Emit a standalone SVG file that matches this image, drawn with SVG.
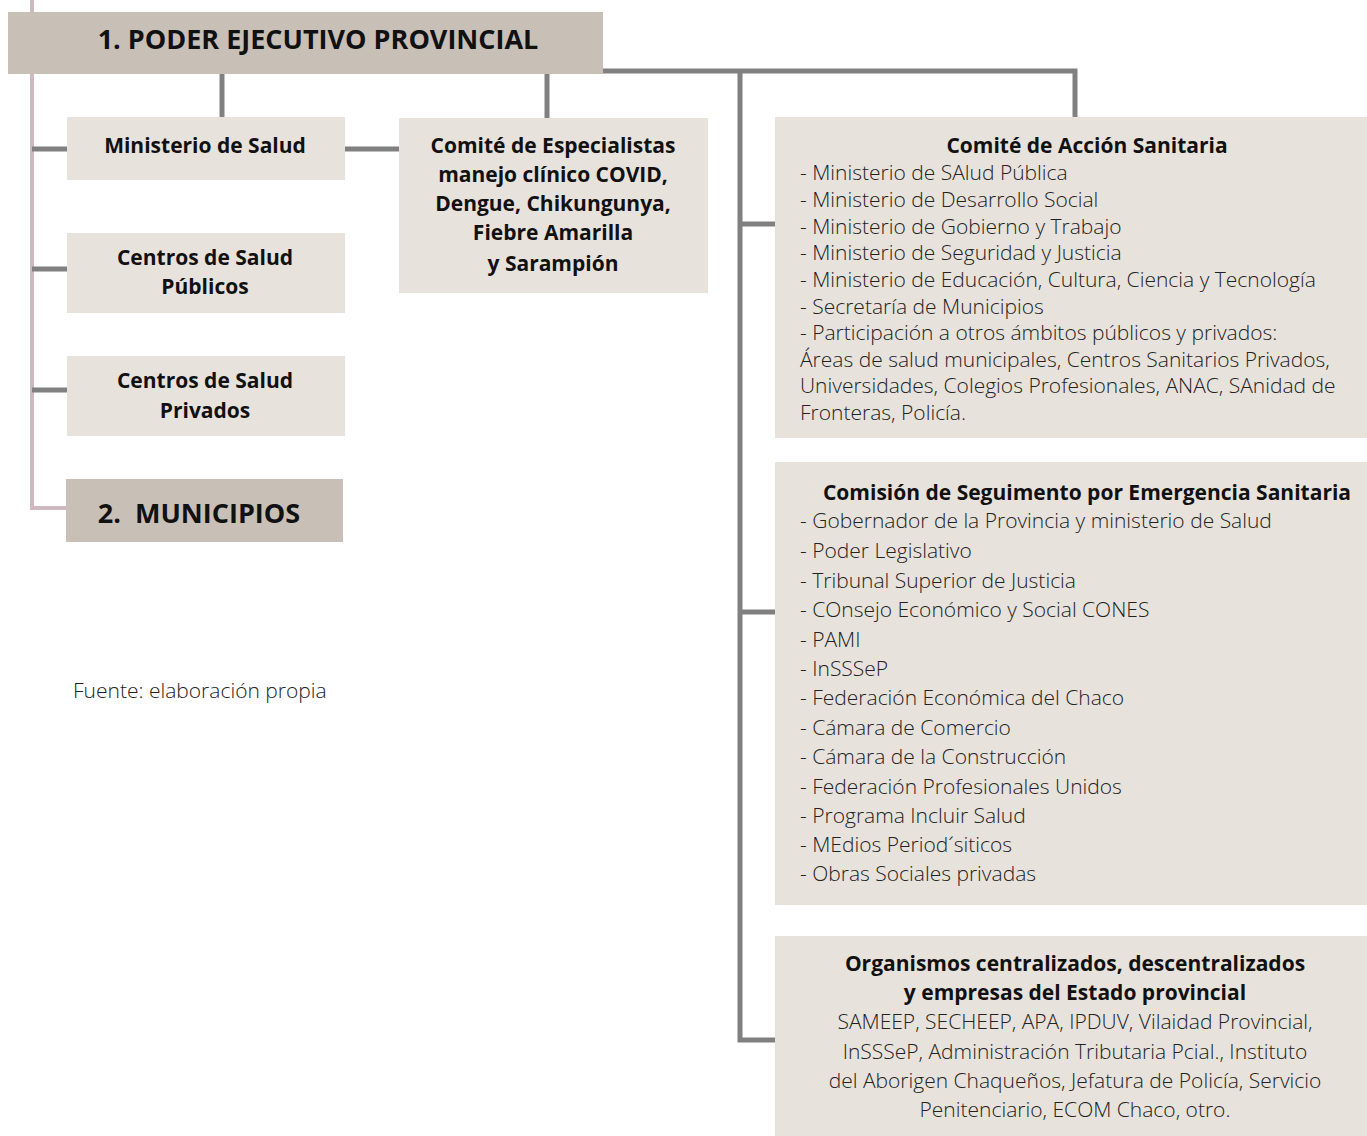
<svg xmlns="http://www.w3.org/2000/svg" width="1367" height="1136" viewBox="0 0 1367 1136">
<style>
.dark{fill:#c8c0b6}
.light{fill:#e8e2dc}
.ln{stroke:#808080;stroke-width:5;fill:none}
.pk{stroke:#cdb9bf;stroke-width:4;fill:none}
.h{font-family:"Open Sans","Liberation Sans",sans-serif;font-weight:700;fill:#111;text-anchor:middle;font-size:21px}
.t{font-family:"Open Sans","Liberation Sans",sans-serif;font-weight:300;fill:#222;font-size:21px}
.c{text-anchor:middle}
</style>
<rect width="1367" height="1136" fill="#fff"/>
<g id="connectors">
<polyline class="pk" points="32,0 32,508 67,508"/>
<line class="ln" x1="222" y1="74" x2="222" y2="117"/>
<line class="ln" x1="547" y1="74" x2="547" y2="118"/>
<polyline class="ln" points="603,71 1075,71 1075,117"/>
<polyline class="ln" points="740,71 740,1040 775,1040"/>
<line class="ln" x1="740" y1="224" x2="775" y2="224"/>
<line class="ln" x1="740" y1="612" x2="775" y2="612"/>
<line class="ln" x1="32" y1="149" x2="67" y2="149"/>
<line class="ln" x1="32" y1="269" x2="67" y2="269"/>
<line class="ln" x1="32" y1="390" x2="67" y2="390"/>
<line class="ln" x1="345" y1="149" x2="399" y2="149"/>
</g>
<g id="poder">
<rect class="dark" x="8" y="12" width="595" height="62"/>
<text class="h" x="318" y="49" style="font-size:27px">1. PODER EJECUTIVO PROVINCIAL</text>
</g>
<g id="ministerio">
<rect class="light" x="67" y="117" width="278" height="63"/>
<text class="h" x="205" y="153">Ministerio de Salud</text>
</g>
<g id="publicos">
<rect class="light" x="67" y="233" width="278" height="80"/>
<text class="h" x="205" y="265">Centros de Salud</text>
<text class="h" x="205" y="294">Públicos</text>
</g>
<g id="privados">
<rect class="light" x="67" y="356" width="278" height="80"/>
<text class="h" x="205" y="388">Centros de Salud</text>
<text class="h" x="205" y="418">Privados</text>
</g>
<g id="municipios">
<rect class="dark" x="66" y="479" width="277" height="63"/>
<text class="h" x="199" y="523" style="font-size:27px" xml:space="preserve">2.  MUNICIPIOS</text>
</g>
<g id="especialistas">
<rect class="light" x="399" y="118" width="309" height="175"/>
<text class="h" x="553" y="153">Comité de Especialistas</text>
<text class="h" x="553" y="182">manejo clínico COVID,</text>
<text class="h" x="553" y="211">Dengue, Chikungunya,</text>
<text class="h" x="553" y="240">Fiebre Amarilla</text>
<text class="h" x="553" y="271">y Sarampión</text>
</g>
<g id="accion">
<rect class="light" x="775" y="117" width="592" height="321"/>
<text class="h" x="1087" y="153">Comité de Acción Sanitaria</text>
<text class="t" x="800" y="180">- Ministerio de SAlud Pública</text>
<text class="t" x="800" y="207">- Ministerio de Desarrollo Social</text>
<text class="t" x="800" y="234">- Ministerio de Gobierno y Trabajo</text>
<text class="t" x="800" y="260">- Ministerio de Seguridad y Justicia</text>
<text class="t" x="800" y="287">- Ministerio de Educación, Cultura, Ciencia y Tecnología</text>
<text class="t" x="800" y="314">- Secretaría de Municipios</text>
<text class="t" x="800" y="340">- Participación a otros ámbitos públicos y privados:</text>
<text class="t" x="800" y="367">Áreas de salud municipales, Centros Sanitarios Privados,</text>
<text class="t" x="800" y="393">Universidades, Colegios Profesionales, ANAC, SAnidad de</text>
<text class="t" x="800" y="420">Fronteras, Policía.</text>
</g>
<g id="comision">
<rect class="light" x="775" y="462" width="592" height="443"/>
<text class="h" x="1087" y="500">Comisión de Seguimento por Emergencia Sanitaria</text>
<text class="t" x="800" y="528">- Gobernador de la Provincia y ministerio de Salud</text>
<text class="t" x="800" y="558">- Poder Legislativo</text>
<text class="t" x="800" y="588">- Tribunal Superior de Justicia</text>
<text class="t" x="800" y="617">- COnsejo Económico y Social CONES</text>
<text class="t" x="800" y="647">- PAMI</text>
<text class="t" x="800" y="676">- InSSSeP</text>
<text class="t" x="800" y="705">- Federación Económica del Chaco</text>
<text class="t" x="800" y="735">- Cámara de Comercio</text>
<text class="t" x="800" y="764">- Cámara de la Construcción</text>
<text class="t" x="800" y="794">- Federación Profesionales Unidos</text>
<text class="t" x="800" y="823">- Programa Incluir Salud</text>
<text class="t" x="800" y="852">- MEdios Period´siticos</text>
<text class="t" x="800" y="881">- Obras Sociales privadas</text>
</g>
<g id="organismos">
<rect class="light" x="775" y="936" width="592" height="200"/>
<text class="h" x="1075" y="971">Organismos centralizados, descentralizados</text>
<text class="h" x="1075" y="1000">y empresas del Estado provincial</text>
<text class="t c" x="1075" y="1029">SAMEEP, SECHEEP, APA, IPDUV, Vilaidad Provincial,</text>
<text class="t c" x="1075" y="1059">InSSSeP, Administración Tributaria Pcial., Instituto</text>
<text class="t c" x="1075" y="1088">del Aborigen Chaqueños, Jefatura de Policía, Servicio</text>
<text class="t c" x="1075" y="1117">Penitenciario, ECOM Chaco, otro.</text>
</g>
<text class="t" x="73" y="698">Fuente: elaboración propia</text>
</svg>
